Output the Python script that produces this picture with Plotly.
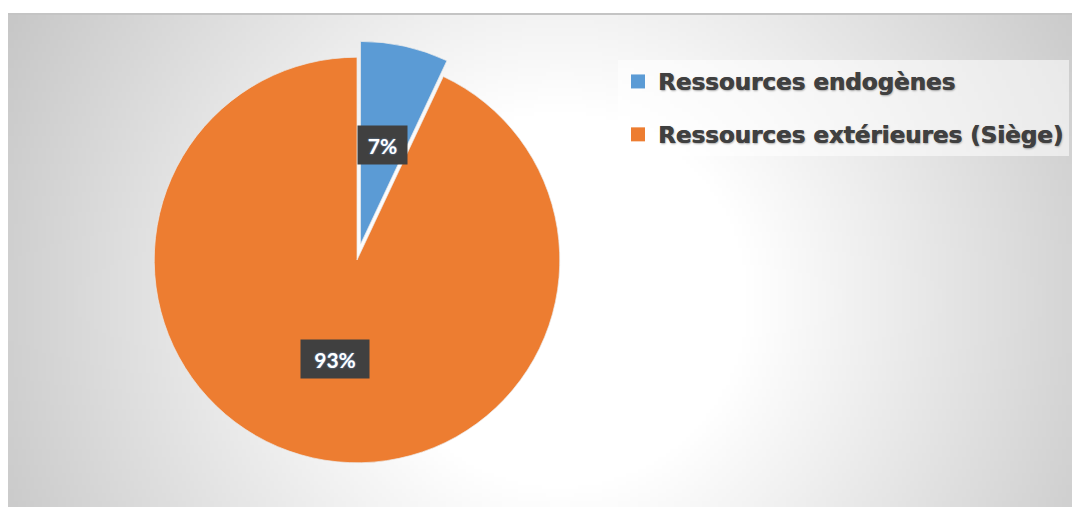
import base64, struct, zlib, math
import numpy as np
import plotly.graph_objects as go

# ---- data ----
labels = ["Ressources endogènes", "Ressources extérieures (Siège)"]
values = [7, 93]
text_labels = ["7%", "93%"]
colors = ["#5B9BD5", "#ED7D31"]
pulls = [0.08, 0.0]

W, H = 1072, 507

# ---- background radial gradient image ----
def make_png(arr):
    h, w, _ = arr.shape
    raw = b"".join(b"\x00" + arr[i].tobytes() for i in range(h))
    def chunk(t, d):
        c = struct.pack(">I", len(d)) + t + d
        return c + struct.pack(">I", zlib.crc32(t + d) & 0xffffffff)
    return (b"\x89PNG\r\n\x1a\n" + chunk(b"IHDR", struct.pack(">IIBBBBB", w, h, 8, 2, 0, 0, 0))
            + chunk(b"IDAT", zlib.compress(raw, 9)) + chunk(b"IEND", b""))

x0c, y0c = 8, 14
cw, ch = W - x0c, H - y0c
s = 4
gw, gh = cw // s, ch // s
yy, xx = np.mgrid[0:gh, 0:gw]
px = x0c + (xx + 0.5) * cw / gw
py = y0c + (yy + 0.5) * ch / gh
r = np.sqrt((px - 560) ** 2 + (py - 300) ** 2)
v = 255 - 0.13 * np.maximum(0, r - 190)
v = np.clip(v, 190, 255).astype(np.uint8)
img = np.dstack([v, v, v])
src = "data:image/png;base64," + base64.b64encode(make_png(img)).decode()

fig = go.Figure()

# pie geometry (domain sized so that r ~ 203 px, centre ~ (357, 260))
dom_x = [138 / W, 576 / W]
dom_y = [1 - 479 / H, 1 - 41 / H]

fig.add_trace(go.Pie(
    labels=labels, values=values, sort=False, direction="clockwise", rotation=0,
    pull=pulls, marker=dict(colors=colors, line=dict(color="rgba(235,235,235,0.7)", width=1)),
    textinfo="none", hoverinfo="label+percent", showlegend=False,
    domain=dict(x=dom_x, y=dom_y),
))

# legend entries
for i, (lab, col) in enumerate(zip(labels, colors)):
    fig.add_trace(go.Scatter(
        x=[None], y=[None], mode="markers", name=lab, legendgroup=f"g{i}",
        marker=dict(symbol="square", size=14, color=col),
    ))

# data labels (boxes) positioned from slice mid-angles
cx_pix = (dom_x[0] + dom_x[1]) / 2 * W
cy_pix = (1 - (dom_y[0] + dom_y[1]) / 2) * H
side = min((dom_x[1] - dom_x[0]) * W, (dom_y[1] - dom_y[0]) * H)
rad = side / (2 + 2 * max(pulls))
total = sum(values)
cum = 0
box_w = [41, 60]
for i, val in enumerate(values):
    mid = (cum + val / 2) / total * 2 * math.pi
    cum += val
    dist = 0.5 * rad + pulls[i] * rad
    lx = cx_pix + dist * math.sin(mid)
    ly = cy_pix - dist * math.cos(mid)
    fig.add_annotation(
        x=lx / W, y=1 - ly / H, xref="paper", yref="paper", showarrow=False,
        xanchor="center", yanchor="middle",
        text=f"<b>{text_labels[i]}</b>", width=box_w[i], height=30, borderpad=4,
        bgcolor="#404040", font=dict(family="Lato", size=21, color="white",
                                     shadow="0px 0px 2px rgba(120,170,230,0.9)"),
    )

fig.add_layout_image(dict(
    source=src, xref="paper", yref="paper", x=x0c / W, y=1 - y0c / H,
    sizex=cw / W, sizey=ch / H, xanchor="left", yanchor="top",
    sizing="stretch", layer="below",
))
fig.add_shape(type="line", xref="paper", yref="paper", x0=x0c / W, x1=1,
              y0=1 - y0c / H, y1=1 - y0c / H, line=dict(color="#c4c4c4", width=2))

fig.update_layout(
    width=W, height=H, margin=dict(l=0, r=0, t=0, b=0, autoexpand=False),
    paper_bgcolor="white", plot_bgcolor="rgba(0,0,0,0)",
    xaxis=dict(visible=False), yaxis=dict(visible=False),
    legend=dict(x=618 / W, y=1 - 60 / H, xanchor="left", yanchor="top",
                bgcolor="rgba(255,255,255,0.55)", tracegroupgap=20,
                font=dict(family="DejaVu Sans", size=23, color="#404040",
                          weight="bold",
                          shadow="0.6px 0px 0px #404040, 1px 1px 2px rgba(0,0,0,0.35)"),
                itemclick=False, itemdoubleclick=False),
    showlegend=True,
)

fig.write_html("out.html", config={"displayModeBar": False},
               post_script="document.body.style.margin='0';")
